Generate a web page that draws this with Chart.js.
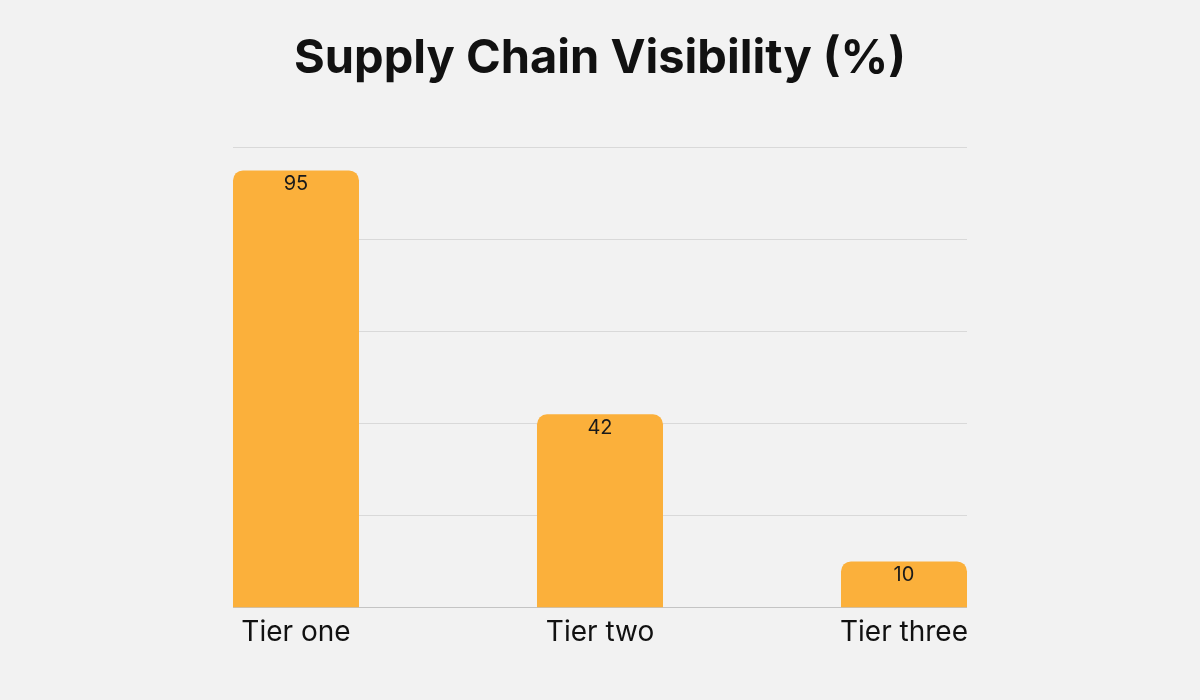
<!DOCTYPE html>
<html>
<head>
<meta charset="utf-8">
<script src="https://cdn.jsdelivr.net/npm/chart.js@4.4.0/dist/chart.umd.min.js"></script>
<style>
html,body{margin:0;padding:0;background:#f2f2f2;}
#wrap{width:1200px;height:700px;}
</style>
</head>
<body>
<div id="wrap"><canvas id="c" width="1200" height="700"></canvas></div>
<script>
const categories = ["Tier one", "Tier two", "Tier three"];
const visibility = [95, 42, 10];
const yTicks = [0, 20, 40, 60, 80, 100];
const chartTitle = "Supply Chain Visibility (%)";

const gridPlugin = {
  id: 'barGrid',
  beforeDatasetsDraw(chart) {
    const ctx = chart.ctx;
    const meta = chart.getDatasetMeta(0);
    const first = meta.data[0], last = meta.data[meta.data.length - 1];
    const x0 = first.x - first.width / 2;
    const x1 = last.x + last.width / 2;
    const y = chart.scales.y;
    ctx.save();
    yTicks.forEach(v => {
      const py = Math.round(y.getPixelForValue(v)) + 0.5;
      ctx.strokeStyle = v === 0 ? '#c4c4c4' : '#d9d9d9';
      ctx.lineWidth = 1;
      ctx.beginPath();
      ctx.moveTo(x0, py);
      ctx.lineTo(x1, py);
      ctx.stroke();
    });
    ctx.restore();
  }
};

const labelPlugin = {
  id: 'barLabels',
  afterDatasetsDraw(chart) {
    const ctx = chart.ctx;
    const meta = chart.getDatasetMeta(0);
    ctx.save();
    ctx.fillStyle = '#1a1a1a';
    ctx.font = '20px Inter, "DejaVu Sans", sans-serif';
    ctx.textAlign = 'center';
    ctx.textBaseline = 'middle';
    meta.data.forEach((bar, i) => {
      ctx.fillText(String(visibility[i]), bar.x, bar.y + 14);
    });
    ctx.restore();
  }
};

new Chart(document.getElementById('c'), {
  type: 'bar',
  data: {
    labels: categories,
    datasets: [{
      data: visibility,
      backgroundColor: '#fbb03b',
      borderRadius: { topLeft: 10, topRight: 10, bottomLeft: 0, bottomRight: 0 },
      borderSkipped: 'bottom',
      barPercentage: 1,
      categoryPercentage: 0.4145
    }]
  },
  options: {
    responsive: false,
    animation: false,
    layout: { padding: { left: 144, right: 144, top: 0, bottom: 51 } },
    plugins: {
      legend: { display: false },
      tooltip: { enabled: false },
      title: {
        display: true,
        text: chartTitle,
        color: '#111',
        font: { family: 'Inter, "DejaVu Sans", sans-serif', size: 47, weight: 'bold' },
        padding: { top: 31, bottom: 60 }
      }
    },
    scales: {
      x: {
        offset: true,
        grid: { display: false },
        border: { display: false },
        ticks: {
          color: '#111',
          padding: 0,
          font: { family: 'Inter, "DejaVu Sans", sans-serif', size: 28 }
        }
      },
      y: {
        display: false,
        min: 0,
        max: 100,
        ticks: { stepSize: 20 }
      }
    }
  },
  plugins: [gridPlugin, labelPlugin]
});
</script>
</body>
</html>
